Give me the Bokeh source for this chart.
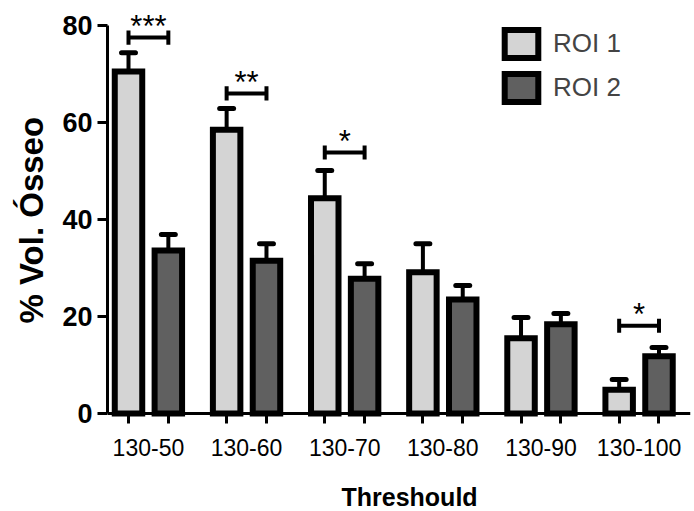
from bokeh.plotting import figure
from bokeh.models import (ColumnDataSource, FixedTicker, Range1d, Legend,
                          LegendItem, Title, Label)
from bokeh.core.properties import value
from bokeh.embed import file_html
from bokeh.resources import INLINE

# ---- data ----
categories = ["130-50", "130-60", "130-70", "130-80", "130-90", "130-100"]
roi1 = [70.5, 58.5, 44.4, 29.1, 15.5, 4.9]
roi1_err = [3.9, 4.4, 5.7, 5.9, 4.3, 2.1]
roi2 = [33.6, 31.5, 27.8, 23.5, 18.4, 11.8]
roi2_err = [3.3, 3.5, 3.1, 2.9, 2.2, 1.8]
sig_groups = [0, 1, 2, 5]
sig_labels = ["***", "**", "*", "*"]
sig_levels = [77.5, 66.0, 53.8, 18.1]
y_ticks = [0, 20, 40, 60, 80]

# ---- style constants ----
OFF = 0.203      # half distance between the two bars of a group
BAR_W = 0.28
CAP_HALF = 0.071
BRACKET_TICK = 1.45
STAR_OFF = 2.3
C1 = "#D4D4D4"
C2 = "#606060"
FONT = "Liberation Sans"

n = len(categories)
x1 = [i - OFF for i in range(n)]
x2 = [i + OFF for i in range(n)]

p = figure(width=694, height=511,
           x_range=Range1d(-0.417, 5.524), y_range=Range1d(-20.2, 85.15),
           output_backend="svg", toolbar_location=None,
           min_border_left=106, min_border_right=4,
           min_border_top=0, min_border_bottom=0)
p.outline_line_color = None
p.grid.visible = False
p.background_fill_color = "white"

# error bars
def err_source(xs, vals, errs):
    return ColumnDataSource(dict(
        x=xs, y0=vals, y1=[v + e for v, e in zip(vals, errs)],
        cx0=[x - CAP_HALF for x in xs], cx1=[x + CAP_HALF for x in xs]))

for xs, vals, errs in ((x1, roi1, roi1_err), (x2, roi2, roi2_err)):
    es = err_source(xs, vals, errs)
    p.segment(x0="x", y0="y0", x1="x", y1="y1", source=es,
              line_color="black", line_width=4)
    p.segment(x0="cx0", y0="y1", x1="cx1", y1="y1", source=es,
              line_color="black", line_width=5, line_cap="round")

s1 = ColumnDataSource(dict(x=x1, top=roi1))
s2 = ColumnDataSource(dict(x=x2, top=roi2))
r1 = p.vbar(x="x", top="top", bottom=0, width=BAR_W, source=s1,
            fill_color=C1, line_color="black", line_width=6, line_join="miter")
r2 = p.vbar(x="x", top="top", bottom=0, width=BAR_W, source=s2,
            fill_color=C2, line_color="black", line_width=6, line_join="miter")

# significance brackets
bx0 = [g - OFF for g in sig_groups]
bx1 = [g + OFF for g in sig_groups]
bs = ColumnDataSource(dict(
    x0=bx0, x1=bx1, y=sig_levels,
    ylo=[v - BRACKET_TICK for v in sig_levels],
    yhi=[v + BRACKET_TICK for v in sig_levels],
    xc=[float(g) for g in sig_groups],
    ys=[v + STAR_OFF for v in sig_levels],
    lab=sig_labels))
p.segment(x0="x0", y0="y", x1="x1", y1="y", source=bs, line_color="black", line_width=4)
p.segment(x0="x0", y0="ylo", x1="x0", y1="yhi", source=bs, line_color="black", line_width=4)
p.segment(x0="x1", y0="ylo", x1="x1", y1="yhi", source=bs, line_color="black", line_width=4)
p.text(x="xc", y="ys", text="lab", source=bs, text_align="center",
       text_baseline="alphabetic", text_font=value(FONT),
       text_font_size="31px", text_color="black")

# y axis
ya = p.yaxis[0]
ya.ticker = FixedTicker(ticks=y_ticks)
ya.bounds = (0, 80)
ya.axis_line_width = 3
ya.major_tick_line_width = 3
ya.major_tick_out = 10
ya.major_tick_in = 0
ya.minor_tick_out = 0
ya.minor_tick_in = 0
ya.major_label_text_font = FONT
ya.major_label_text_font_size = "27px"
ya.major_label_text_font_style = "bold"
ya.major_label_text_color = "black"
ya.major_label_standoff = 5

# x axis, pinned at y = 0
xa = p.xaxis[0]
xa.fixed_location = 0
xa.ticker = FixedTicker(ticks=list(range(n)), minor_ticks=x1 + x2)
xa.major_label_overrides = {i: c for i, c in enumerate(categories)}
xa.axis_line_width = 3
xa.major_tick_out = 0
xa.major_tick_in = 0
xa.minor_tick_out = 10
xa.minor_tick_in = 0
xa.minor_tick_line_width = 3
xa.major_label_text_font = FONT
xa.major_label_text_font_size = "23px"
xa.major_label_text_color = "black"
xa.major_label_standoff = 15

# axis titles
ytitle = Title(text="% Vol. Ósseo", align="left", offset=188,
               vertical_align="bottom", standoff=20,
               text_font=FONT, text_font_size="33px", text_font_style="bold",
               text_color="black")
p.add_layout(ytitle, "left")
xtitle = Label(text="Threshould", x=234, y=15, x_units="screen", y_units="screen",
               text_align="left", text_baseline="alphabetic",
               text_font=FONT, text_font_size="25px", text_font_style="bold",
               text_color="black")
p.add_layout(xtitle)

legend = Legend(items=[LegendItem(label="ROI 1", renderers=[r1]),
                       LegendItem(label="ROI 2", renderers=[r2])],
                location=(393, 406), padding=0, margin=0, spacing=9,
                glyph_width=42, glyph_height=35, label_standoff=11,
                label_text_font=FONT, label_text_font_size="26px",
                border_line_color=None, background_fill_alpha=0)
p.add_layout(legend)

open("out.html", "w").write(file_html(p, INLINE))
